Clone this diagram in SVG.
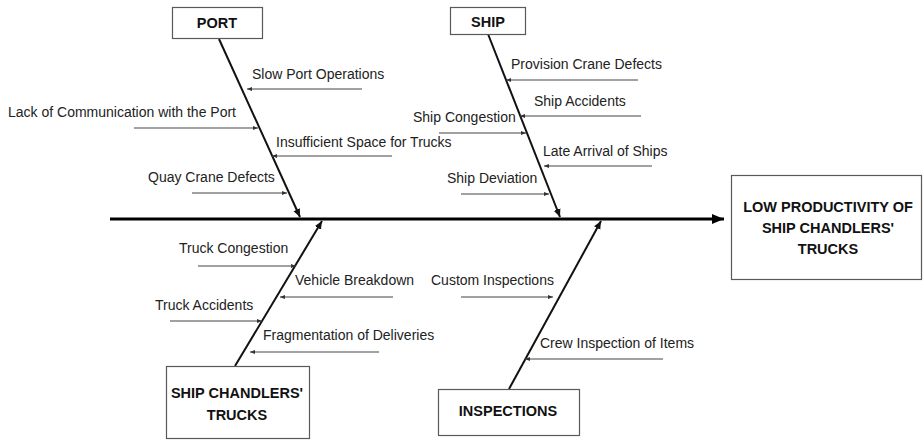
<svg xmlns="http://www.w3.org/2000/svg" width="924" height="440" viewBox="0 0 924 440">
<style>
.box{fill:#fff;stroke:#595959;stroke-width:1.2}
.title{font-family:"Liberation Sans",Arial,sans-serif;font-weight:bold;font-size:14.5px;fill:#111;text-anchor:middle}
.lbl{font-family:"Liberation Sans",Arial,sans-serif;font-size:14px;fill:#222}
.spine{stroke:#000;stroke-width:3;fill:none}
.bone{stroke:#111;stroke-width:2;fill:none}
.sub{stroke:#444;stroke-width:1.2;fill:none}
</style>
<defs>
<marker id="big" markerUnits="userSpaceOnUse" markerWidth="14" markerHeight="12" refX="12" refY="6" orient="auto"><path d="M0,1 L12,6 L0,11 Z" fill="#000"/></marker>
<marker id="mid" markerUnits="userSpaceOnUse" markerWidth="10" markerHeight="8" refX="8" refY="4" orient="auto"><path d="M0,0.5 L8,4 L0,7.5 Z" fill="#111"/></marker>
<marker id="sm" markerUnits="userSpaceOnUse" markerWidth="6" markerHeight="6" refX="5" refY="3" orient="auto"><path d="M0,1 L5,3 L0,5 Z" fill="#333"/></marker>
</defs>
<g id="connectors">
<line class="spine" x1="110" y1="219" x2="724" y2="219" marker-end="url(#big)"/>
<line class="bone" x1="219" y1="39" x2="300" y2="217" marker-end="url(#mid)"/>
<line class="bone" x1="488" y1="34" x2="560" y2="217" marker-end="url(#mid)"/>
<line class="bone" x1="235" y1="366" x2="322" y2="221" marker-end="url(#mid)"/>
<line class="bone" x1="509" y1="389" x2="601" y2="221" marker-end="url(#mid)"/>
<line class="sub" x1="362" y1="89" x2="247" y2="89" marker-end="url(#sm)"/>
<line class="sub" x1="134" y1="128" x2="258" y2="128" marker-end="url(#sm)"/>
<line class="sub" x1="392" y1="156" x2="272" y2="156" marker-end="url(#sm)"/>
<line class="sub" x1="192" y1="193" x2="287" y2="193" marker-end="url(#sm)"/>
<line class="sub" x1="638" y1="80" x2="506" y2="80" marker-end="url(#sm)"/>
<line class="sub" x1="641" y1="116" x2="520" y2="116" marker-end="url(#sm)"/>
<line class="sub" x1="439" y1="133" x2="526" y2="133" marker-end="url(#sm)"/>
<line class="sub" x1="652" y1="166" x2="544" y2="166" marker-end="url(#sm)"/>
<line class="sub" x1="461" y1="194" x2="549" y2="194" marker-end="url(#sm)"/>
<line class="sub" x1="198" y1="266" x2="296" y2="266" marker-end="url(#sm)"/>
<line class="sub" x1="393" y1="297" x2="280" y2="297" marker-end="url(#sm)"/>
<line class="sub" x1="170" y1="321" x2="262" y2="321" marker-end="url(#sm)"/>
<line class="sub" x1="379" y1="352" x2="250" y2="352" marker-end="url(#sm)"/>
<line class="sub" x1="461" y1="297" x2="553" y2="297" marker-end="url(#sm)"/>
<line class="sub" x1="663" y1="359" x2="525" y2="359" marker-end="url(#sm)"/>
</g>
<g id="effect">
<rect class="box" x="731.5" y="175.5" width="190" height="104"/>
<text class="title" x="828" y="212">LOW PRODUCTIVITY OF</text>
<text class="title" x="828" y="233">SHIP CHANDLERS'</text>
<text class="title" x="828" y="254">TRUCKS</text>
</g>
<g id="port">
<rect class="box" x="172.5" y="7.5" width="90" height="31"/>
<text class="title" x="217" y="28">PORT</text>
</g>
<g id="ship">
<rect class="box" x="450.5" y="7.5" width="75" height="27"/>
<text class="title" x="488" y="27">SHIP</text>
</g>
<g id="trucks">
<rect class="box" x="166.5" y="366.5" width="143" height="72"/>
<text class="title" x="237" y="398">SHIP CHANDLERS'</text>
<text class="title" x="237" y="420">TRUCKS</text>
</g>
<g id="inspections">
<rect class="box" x="438.5" y="389.5" width="141" height="46"/>
<text class="title" x="508" y="416">INSPECTIONS</text>
</g>
<g id="causes">
<text class="lbl" x="252" y="79">Slow Port Operations</text>
<text class="lbl" x="8" y="117">Lack of Communication with the Port</text>
<text class="lbl" x="276" y="147">Insufficient Space for Trucks</text>
<text class="lbl" x="148" y="182">Quay Crane Defects</text>
<text class="lbl" x="511" y="69">Provision Crane Defects</text>
<text class="lbl" x="534" y="106">Ship Accidents</text>
<text class="lbl" x="413" y="122">Ship Congestion</text>
<text class="lbl" x="543" y="156">Late Arrival of Ships</text>
<text class="lbl" x="447" y="183">Ship Deviation</text>
<text class="lbl" x="179" y="253">Truck Congestion</text>
<text class="lbl" x="295" y="285">Vehicle Breakdown</text>
<text class="lbl" x="155" y="310">Truck Accidents</text>
<text class="lbl" x="263" y="340">Fragmentation of Deliveries</text>
<text class="lbl" x="431" y="285">Custom Inspections</text>
<text class="lbl" x="540" y="348">Crew Inspection of Items</text>
</g>
</svg>
